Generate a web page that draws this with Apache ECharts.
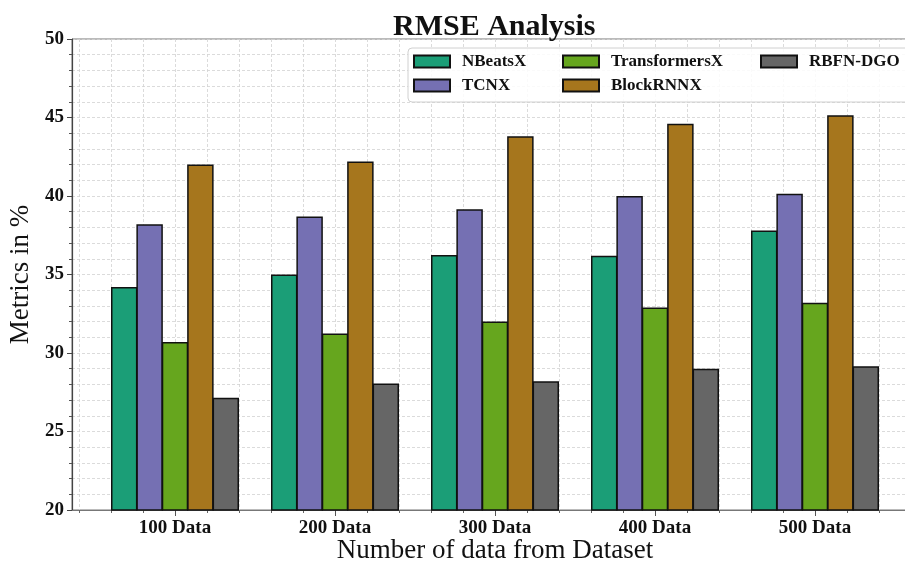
<!DOCTYPE html>
<html>
<head>
<meta charset="utf-8">
<title>RMSE Analysis</title>
<script src="https://cdn.jsdelivr.net/npm/echarts@6/dist/echarts.min.js"></script>
<style>
  html, body { margin: 0; padding: 0; background: #fff; }
  #chart { width: 905px; height: 563px; }
</style>
</head>
<body>
<div id="chart"></div>
<script>
// categories + values
var categories = ['100 Data', '200 Data', '300 Data', '400 Data', '500 Data'];
var nbeatsx = [34.2, 35.0, 36.25, 36.2, 37.8];
var tcnx = [38.2, 38.7, 39.15, 40.0, 40.15];
var transformersx = [30.7, 31.25, 32.0, 32.9, 33.2];
var blockrnnx = [42.0, 42.2, 43.8, 44.6, 45.15];
var rbfndgo = [27.15, 28.05, 28.2, 29.0, 29.15];
var majorTicks = [0, 1, 2, 3, 4];

var FONT = '"Liberation Serif", "Times New Roman", serif';
var gridLine = { show: true, lineStyle: { color: '#d2d2d2', width: 0.8, type: [3, 2] } };

function pairs(arr) {
  return arr.map(function (v, i) { return [i, v]; });
}

function barSeries(name, color, values) {
  return {
    name: name,
    type: 'bar',
    xAxisIndex: 1,
    yAxisIndex: 1,
    barGap: '-4%',
    barCategoryGap: '20%',
    itemStyle: { color: color, borderColor: '#111', borderWidth: 1.5 },
    data: pairs(values)
  };
}

function legendCol(left, names) {
  return {
    orient: 'vertical',
    left: left,
    top: 53,
    padding: 0,
    itemGap: 7,
    itemWidth: 36,
    itemHeight: 12,
    icon: 'rect',
    z: 10,
    data: names,
    textStyle: { fontFamily: FONT, fontWeight: 'bold', fontSize: 17, color: '#111', padding: [0, 0, 0, 7] }
  };
}

var myChart = echarts.init(document.getElementById('chart'));
var option = {
  backgroundColor: '#fff',
  animation: false,
  title: {
    text: 'RMSE Analysis',
    left: 388,
    top: 7,
    textStyle: { fontFamily: FONT, fontWeight: 'bold', fontSize: 30, color: '#111' }
  },
  legend: [
    legendCol(413, ['NBeatsX', 'TCNX']),
    legendCol(562, ['TransformersX', 'BlockRNNX']),
    legendCol(760, ['RBFN-DGO'])
  ],
  graphic: [{
    type: 'rect',
    z: 5,
    shape: { x: 408, y: 48, width: 520, height: 54, r: 4 },
    style: { fill: 'rgba(255,255,255,0.85)', stroke: '#d0d0d0', lineWidth: 1 }
  }],
  grid: [
    // frame + horizontal grid
    { left: 72, top: 39, width: 846, height: 471, outerBoundsMode: 'none', show: true, borderColor: '#777', borderWidth: 1 },
    // bars + vertical grid (x from -0.6 to 4.6)
    { left: 79, top: 39, width: 832, height: 471, outerBoundsMode: 'none' }
  ],
  xAxis: [
    {
      gridIndex: 0,
      type: 'value',
      min: 0,
      max: 1,
      axisLine: { show: true, lineStyle: { color: '#777', width: 1.2 } },
      axisTick: { show: false },
      axisLabel: { show: false },
      splitLine: { show: false },
      name: 'Number of data from Dataset',
      nameLocation: 'middle',
      nameGap: 27,
      nameTextStyle: { fontFamily: FONT, fontSize: 27, color: '#111' }
    },
    {
      gridIndex: 1,
      type: 'value',
      position: 'bottom',
      min: -0.6,
      max: 4.6,
      interval: 0.2,
      axisLine: { show: false },
      axisTick: { show: true, length: 3, lineStyle: { color: '#666' } },
      splitLine: gridLine,
      axisLabel: {
        margin: 9,
        fontFamily: FONT,
        fontWeight: 'bold',
        fontSize: 19,
        color: '#111',
        formatter: function (v) {
          var i = Math.round(v);
          return (Math.abs(v - i) < 1e-6 && categories[i]) ? categories[i] : '';
        }
      }
    },
    {
      gridIndex: 1,
      type: 'value',
      position: 'bottom',
      min: -0.6,
      max: 4.6,
      axisLine: { show: false },
      axisTick: { show: true, length: 6, customValues: majorTicks, lineStyle: { color: '#555' } },
      axisLabel: { show: false },
      splitLine: { show: false }
    }
  ],
  yAxis: [
    {
      gridIndex: 0,
      type: 'value',
      min: 20,
      max: 50,
      interval: 5,
      axisLine: { show: true, lineStyle: { color: '#444', width: 1.2 } },
      axisTick: { show: true, length: 5, lineStyle: { color: '#444' } },
      minorTick: { show: true, splitNumber: 5, length: 3, lineStyle: { color: '#555' } },
      splitLine: gridLine,
      minorSplitLine: gridLine,
      axisLabel: { margin: 8, fontFamily: FONT, fontWeight: 'bold', fontSize: 19, color: '#111' },
      name: 'Metrics in %',
      nameLocation: 'middle',
      nameGap: 30,
      nameTextStyle: { fontFamily: FONT, fontSize: 27, color: '#111' }
    },
    {
      gridIndex: 1,
      type: 'value',
      min: 20,
      max: 50,
      show: false
    }
  ],
  series: [
    barSeries('NBeatsX', '#1b9e77', nbeatsx),
    barSeries('TCNX', '#7570b3', tcnx),
    barSeries('TransformersX', '#66a61e', transformersx),
    barSeries('BlockRNNX', '#a6761d', blockrnnx),
    barSeries('RBFN-DGO', '#666666', rbfndgo)
  ]
};

option && myChart.setOption(option);
</script>
</body>
</html>
